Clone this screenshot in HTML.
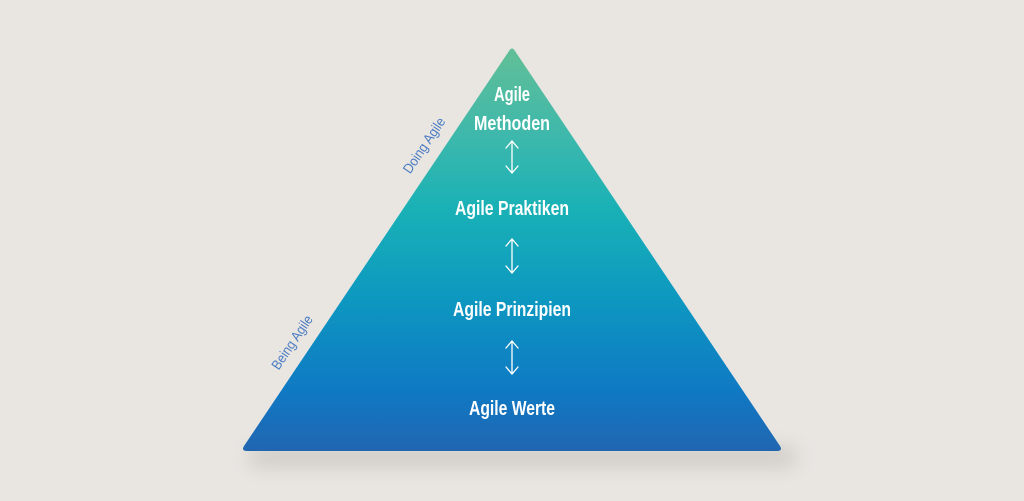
<!DOCTYPE html>
<html><head><meta charset="utf-8"><style>
html,body{margin:0;padding:0;background:#e9e6e2;}
svg{display:block;}
</style></head><body>
<svg width="1024" height="501" viewBox="0 0 1024 501" xmlns="http://www.w3.org/2000/svg">
<defs>
<linearGradient id="g" x1="0" y1="48" x2="0" y2="452" gradientUnits="userSpaceOnUse">
<stop offset="0" stop-color="#62bf96"/>
<stop offset="0.22" stop-color="#3db8ac"/>
<stop offset="0.4" stop-color="#19b1b6"/>
<stop offset="0.62" stop-color="#0d98c0"/>
<stop offset="0.85" stop-color="#0f79c4"/>
<stop offset="1" stop-color="#2265b0"/>
</linearGradient>
<filter id="s" x="-20%" y="-100%" width="140%" height="300%">
<feGaussianBlur stdDeviation="10"/>
</filter>
</defs>
<rect width="1024" height="501" fill="#e9e6e2"/>
<path d="M250 448 L795 448 L795 466 L250 466 Z" fill="#a8a39e" opacity="0.45" filter="url(#s)"/>
<path d="M509 51 Q512 46 515 51 L780 446 Q783 451 777 451 L247 451 Q241 451 244 446 Z" fill="url(#g)"/>
<g fill="#fff" font-family="'Liberation Sans Narrow','Liberation Sans',sans-serif" font-weight="bold" font-size="20" text-anchor="middle">
<text x="512" y="101" textLength="36" lengthAdjust="spacingAndGlyphs">Agile</text>
<text x="512" y="130" textLength="76" lengthAdjust="spacingAndGlyphs">Methoden</text>
<text x="512" y="215" textLength="114" lengthAdjust="spacingAndGlyphs">Agile Praktiken</text>
<text x="512" y="316" textLength="118" lengthAdjust="spacingAndGlyphs">Agile Prinzipien</text>
<text x="512" y="415" textLength="86" lengthAdjust="spacingAndGlyphs">Agile Werte</text>
</g>
<g stroke="#fff" stroke-width="1.3" fill="none" stroke-linecap="round">
<path d="M512 142 V172 M506 148 L512 141 L518 148 M506 166 L512 173 L518 166"/>
<path d="M512 240 V272 M506 246 L512 239 L518 246 M506 266 L512 273 L518 266"/>
<path d="M512 342 V373 M506 348 L512 341 L518 348 M506 367 L512 374 L518 367"/>
</g>
<g fill="#4b7cc2" font-family="'Liberation Sans Narrow','Liberation Sans',sans-serif" font-size="14" text-anchor="middle">
<text transform="translate(428,148) rotate(-56)" textLength="64" lengthAdjust="spacingAndGlyphs">Doing Agile</text>
<text transform="translate(296,345) rotate(-56)" textLength="62" lengthAdjust="spacingAndGlyphs">Being Agile</text>
</g>
</svg>
</body></html>
